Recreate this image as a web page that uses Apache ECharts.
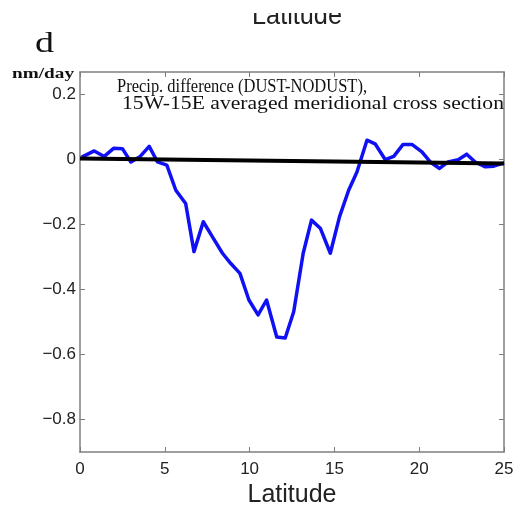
<!DOCTYPE html>
<html>
<head>
<meta charset="utf-8">
<script src="https://cdn.jsdelivr.net/npm/echarts@6/dist/echarts.min.js"></script>
<style>
html,body{margin:0;padding:0;background:#fff;}
#chart{width:520px;height:505px;}
</style>
</head>
<body>
<div id="chart"></div>
<script>
// ---- data ----
const latitude = [0.1, 0.84, 1.43, 1.98, 2.5, 3.0, 3.55, 4.08, 4.57, 5.12, 5.65, 6.23, 6.72, 7.27, 7.8, 8.4, 8.88, 9.43, 9.96, 10.5, 11.0, 11.6, 12.1, 12.6, 13.16, 13.65, 14.18, 14.76, 15.3, 15.84, 16.33, 16.92, 17.4, 18.0, 18.5, 19.05, 19.57, 20.16, 20.65, 21.2, 21.7, 22.3, 22.8, 23.3, 23.9, 24.4, 25.0];
const precipDiff = [0.008, 0.027, 0.010, 0.035, 0.034, -0.007, 0.010, 0.041, -0.007, -0.017, -0.094, -0.135, -0.283, -0.191, -0.237, -0.288, -0.319, -0.350, -0.432, -0.478, -0.432, -0.546, -0.549, -0.468, -0.288, -0.186, -0.212, -0.288, -0.176, -0.094, -0.038, 0.060, 0.049, 0.000, 0.010, 0.047, 0.047, 0.024, -0.007, -0.027, -0.007, 0.000, 0.017, -0.007, -0.022, -0.020, -0.010];
const refLineLat = [0, 25];
const refLineVal = [0.004, -0.012];
const xTicks = [0, 5, 10, 15, 20, 25];
const yTicks = [-0.8, -0.6, -0.4, -0.2, 0, 0.2];
const yRange = [-0.9, 0.27];
const xRange = [0, 25];
const panelLetter = 'd';
const unitText = 'nm/day';
const titleLine1 = 'Precip. difference (DUST-NODUST),';
const titleLine2 = '15W-15E averaged meridional cross section';
const xName = 'Latitude';

// ---- helpers ----
const mctx = document.createElement('canvas').getContext('2d');
function fitScale(text, font, target) {
  mctx.font = font;
  const w = mctx.measureText(text).width;
  return target / w;
}
function fmtY(v) {
  if (Math.abs(v) < 1e-9) return '0';
  return (v < 0 ? '\u2212' : '') + Math.abs(v).toFixed(1);
}
function serifText(text, left, baseline, size, weight, targetW) {
  const font = weight + ' ' + size + 'px "Liberation Serif"';
  const sx = fitScale(text, font, targetW);
  return {
    type: 'text', x: left, y: baseline - 0.33 * size, scaleX: sx, scaleY: 1,
    style: { text: text, x: 0, y: 0, fill: '#111', font: font, textAlign: 'left', textVerticalAlign: 'middle' },
    z: 10
  };
}

const axisColor = '#7f7f7f';
const lblColor = '#222';
const sans = '"Liberation Sans", Arial, sans-serif';

const chart = echarts.init(document.getElementById('chart'), null, { renderer: 'canvas' });

const topFont = 'normal 25px "Liberation Sans"';
const option = {
  animation: false,
  backgroundColor: '#fff',
  grid: { left: 80, right: 16, top: 72, bottom: 53, containLabel: false, outerBoundsMode: 'none' },
  xAxis: [
    {
      type: 'value', min: xRange[0], max: xRange[1], interval: 5,
      name: xName, nameLocation: 'middle', nameGap: 30,
      nameTextStyle: { fontFamily: sans, fontSize: 25, color: lblColor },
      axisLine: { show: true, onZero: false, lineStyle: { color: axisColor, width: 1.5 } },
      axisTick: { show: true, inside: true, length: 5, lineStyle: { color: axisColor } },
      axisLabel: { show: true, fontFamily: sans, fontSize: 17, color: lblColor, margin: 9,
        customValues: xTicks },
      splitLine: { show: false }
    },
    {
      type: 'value', position: 'top', min: xRange[0], max: xRange[1], interval: 5,
      axisLine: { show: true, onZero: false, lineStyle: { color: axisColor, width: 1.5 } },
      axisTick: { show: true, inside: true, length: 5, lineStyle: { color: axisColor } },
      axisLabel: { show: false },
      splitLine: { show: false }
    }
  ],
  yAxis: [
    {
      type: 'value', min: yRange[0], max: yRange[1],
      axisLine: { show: true, onZero: false, lineStyle: { color: axisColor, width: 1.5 } },
      axisTick: { show: true, inside: true, length: 5, lineStyle: { color: axisColor }, customValues: yTicks },
      axisLabel: { show: true, fontFamily: sans, fontSize: 17, color: lblColor, margin: 4,
        customValues: yTicks, formatter: fmtY },
      splitLine: { show: false }
    },
    {
      type: 'value', position: 'right', min: yRange[0], max: yRange[1],
      axisLine: { show: true, onZero: false, lineStyle: { color: axisColor, width: 1.5 } },
      axisTick: { show: true, inside: true, length: 5, lineStyle: { color: axisColor }, customValues: yTicks },
      axisLabel: { show: false, customValues: yTicks },
      splitLine: { show: false }
    }
  ],
  series: [
    {
      type: 'line', xAxisIndex: 0, yAxisIndex: 0,
      data: latitude.map((x, i) => [x, precipDiff[i]]),
      showSymbol: false, symbol: 'none',
      lineStyle: { color: '#1010f5', width: 3.5, join: 'round' },
      z: 2
    },
    {
      type: 'line', xAxisIndex: 0, yAxisIndex: 0,
      data: refLineLat.map((x, i) => [x, refLineVal[i]]),
      showSymbol: false, symbol: 'none',
      lineStyle: { color: '#000', width: 4 },
      z: 3
    }
  ],
  graphic: [
    {
      type: 'text', x: 297, y: 25 - 0.35 * 25,
      scaleX: fitScale(xName, topFont, 90), scaleY: 1.1,
      style: { text: xName, x: 0, y: 0, font: topFont, fill: '#222', textAlign: 'center', textVerticalAlign: 'middle' },
      z: 5
    },
    { type: 'rect', shape: { x: 200, y: 0, width: 200, height: 13 }, style: { fill: '#fff' }, z: 100 },
    serifText(panelLetter, 35, 54, 29, 'normal', 19),
    serifText(unitText, 12, 79, 14, 'bold', 62),
    serifText(titleLine1, 117, 93, 19, 'normal', 250),
    serifText(titleLine2, 122, 110, 19, 'normal', 382)
  ]
};
chart.setOption(option);
</script>
</body>
</html>
